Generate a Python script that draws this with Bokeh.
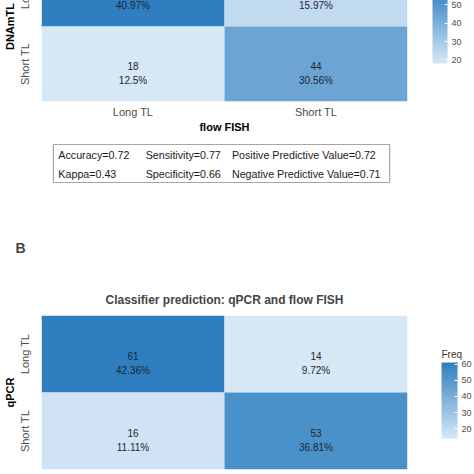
import numpy as np
from bokeh.plotting import figure
from bokeh.models import (ColumnDataSource, LinearColorMapper, ColorBar, FixedTicker,
                          Range1d, FactorRange, Title)
from bokeh.layouts import column
from bokeh.embed import file_html
from bokeh.resources import INLINE
from bokeh.core.properties import value

# ---------------- data ----------------
classes = ["Long TL", "Short TL"]
cell_pred = ["Long TL", "Long TL", "Short TL", "Short TL"]   # rows (prediction)
cell_ref = ["Long TL", "Short TL", "Long TL", "Short TL"]    # columns (flow FISH)

a_freq = [59, 23, 18, 44]
a_pct = ["40.97%", "15.97%", "12.5%", "30.56%"]
a_xlabel = "flow FISH"
a_ylabel = "DNAmTL"

b_freq = [61, 14, 16, 53]
b_pct = ["42.36%", "9.72%", "11.11%", "36.81%"]
b_title = "Classifier prediction: qPCR and flow FISH"
b_ylabel = "qPCR"
b_panel = "B"

stat_names = ["Accuracy", "Sensitivity", "Positive Predictive Value",
              "Kappa", "Specificity", "Negative Predictive Value"]
stat_values = [0.72, 0.77, 0.72, 0.43, 0.66, 0.71]

legend_title = "Freq"
a_ticks = [20, 30, 40, 50]
b_ticks = [20, 30, 40, 50, 60]

# ---------------- style ----------------
FONT = "Liberation Sans"
LOW = (0xD6, 0xE7, 0xF6)
HIGH = (0x2F, 0x7F, 0xC0)
BL, BR = 38, 67          # common left / right borders of the stacked figures
W = 474
CB_SHIFT = 4             # colour bar internal offset


def ramp(n=256):
    out = []
    for t in np.linspace(0, 1, n):
        r, g, b = [int(round(l + (h - l) * t)) for l, h in zip(LOW, HIGH)]
        out.append("#%02x%02x%02x" % (r, g, b))
    return out


PALETTE = ramp()


def style_axes(p):
    p.xgrid.visible = False
    p.ygrid.visible = False
    p.outline_line_color = None
    for ax in (p.xaxis, p.yaxis):
        ax.axis_line_color = None
        ax.major_tick_line_color = None
        ax.minor_tick_line_color = None
        ax.major_tick_out = 0
        ax.major_tick_in = 0
        ax.minor_tick_out = 0
        ax.minor_tick_in = 0
        ax.major_label_text_font = FONT
        ax.major_label_text_font_size = "11px"
        ax.major_label_text_color = "#4D4D4D"
        ax.axis_label_text_font = FONT
        ax.axis_label_text_font_size = "11px"
        ax.axis_label_text_font_style = "bold"
        ax.axis_label_text_color = "#000000"
    p.yaxis.major_label_orientation = "vertical"
    p.yaxis.major_label_standoff = 11
    p.yaxis.axis_label_standoff = 0


def heat(p, freq, pct):
    src = ColumnDataSource(dict(x=cell_ref, y=cell_pred, freq=freq,
                                fs=[str(v) for v in freq], pct=pct))
    mapper = LinearColorMapper(palette=PALETTE, low=min(freq), high=max(freq))
    p.rect(x="x", y="y", width=1, height=1, source=src,
           fill_color={"field": "freq", "transform": mapper}, line_color=None)
    for col, off in (("fs", 1.5), ("pct", 16)):
        p.text(x="x", y="y", text=col, source=src, y_offset=off,
               text_align="center", text_baseline="middle",
               text_font=value(FONT), text_font_size="10px", text_color="#1E2433")
    return mapper


def cbar(mapper, ticks, w, h, loc):
    return ColorBar(color_mapper=mapper, width=w, height=h, location=loc,
                    orientation="vertical",
                    ticker=FixedTicker(ticks=ticks), padding=0, label_standoff=4,
                    major_label_text_font=FONT, major_label_text_font_size="9px",
                    major_label_text_color="#4D4D4D",
                    major_tick_line_color="white", major_tick_in=3, major_tick_out=0,
                    bar_line_color=None, border_line_color=None,
                    background_fill_alpha=0)


def cbar_title(mapper, text, loc):
    # horizontal, invisible scale: used only to show the legend title horizontally
    return ColorBar(color_mapper=mapper, width=20, height=1, location=loc,
                    orientation="horizontal", title=text,
                    title_text_font=FONT, title_text_font_size="10px",
                    title_text_font_style="normal", title_text_color="#333333",
                    title_standoff=2, scale_alpha=0,
                    ticker=FixedTicker(ticks=[]), padding=0, label_standoff=0,
                    major_label_text_font_size="1px", major_label_text_alpha=0,
                    major_tick_line_color=None, minor_tick_line_color=None,
                    bar_line_color=None, border_line_color=None,
                    background_fill_alpha=0)


# ---------------- panel A (partially visible) ----------------
pA = figure(width=W, height=185, x_range=FactorRange(*classes),
            y_range=FactorRange(*classes[::-1]),
            output_backend="svg", toolbar_location=None,
            min_border_left=BL, min_border_right=BR, min_border_top=0,
            min_border_bottom=35)
style_axes(pA)
mapA = heat(pA, a_freq, a_pct)
pA.xaxis.axis_label = a_xlabel
pA.yaxis.axis_label = a_ylabel
pA.xaxis.major_label_standoff = 4
pA.xaxis.axis_label_standoff = 0
pA.add_layout(cbar(mapA, a_ticks, 15, 75, (433 - BL - CB_SHIFT, 38)), "center")

# ---------------- stats box (page-pixel coordinates) ----------------
pS = figure(width=W, height=54, x_range=Range1d(BL, W - BR), y_range=Range1d(190, 136),
            output_backend="svg", toolbar_location=None,
            min_border_left=BL, min_border_right=BR, min_border_top=0,
            min_border_bottom=0)
pS.axis.visible = False
pS.xgrid.visible = False
pS.ygrid.visible = False
pS.outline_line_color = None
pS.quad(left=[50], right=[389], top=[144], bottom=[182], fill_color=None,
        line_color="#A6A6A6", line_width=1.2)
col_x = [55, 143, 230]
row_y = [154, 173]
sx, sy, st = [], [], []
for i, (n, v) in enumerate(zip(stat_names, stat_values)):
    sx.append(col_x[i % 3])
    sy.append(row_y[i // 3])
    st.append(f"{n}={v:g}")
pS.text(x=sx, y=sy, text=st, text_align="left", text_baseline="middle",
        text_font=value(FONT), text_font_size="10.7px", text_color="#1A1A1A")

# ---------------- panel B ----------------
pB = figure(width=W, height=284, x_range=FactorRange(*classes),
            y_range=FactorRange(*classes[::-1]),
            output_backend="svg", toolbar_location=None,
            min_border_left=BL, min_border_right=BR, min_border_top=125,
            min_border_bottom=5)
style_axes(pB)
mapB = heat(pB, b_freq, b_pct)
pB.xaxis.visible = False
pB.yaxis.axis_label = b_ylabel
pB.title.text = b_panel
pB.title.align = "left"
pB.title.offset = 12 - BL
pB.title.text_font = FONT
pB.title.text_font_size = "14px"
pB.title.text_font_style = "bold"
pB.title.standoff = 53
pB.add_layout(Title(text=b_title, align="center", standoff=17,
                    text_font=FONT, text_font_size="12px", text_font_style="bold"),
              "above")
pB.add_layout(cbar(mapB, b_ticks, 16, 76, (442 - BL - CB_SHIFT, 31)), "center")
pB.add_layout(cbar_title(mapB, legend_title, (442 - BL - CB_SHIFT, 108)), "center")

root = column(pA, pS, pB, spacing=0, styles={"margin-top": "-49px"})

open("out.html", "w").write(file_html(root, INLINE))
